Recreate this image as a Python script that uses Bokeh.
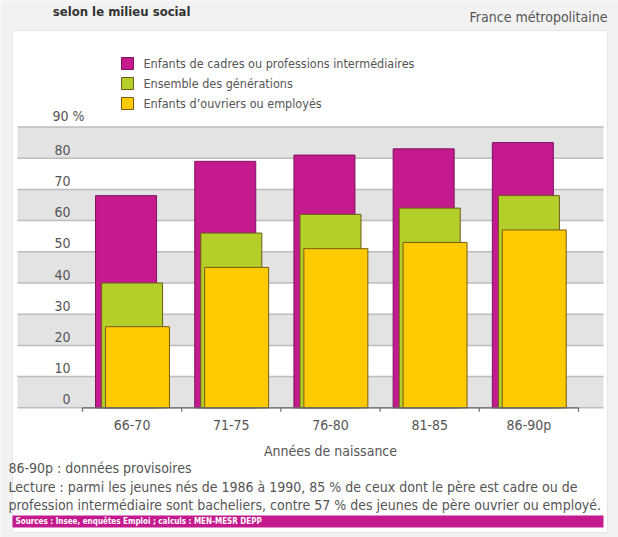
from bokeh.plotting import figure
from bokeh.models import Range1d
from bokeh.core.properties import value
from bokeh.embed import file_html
from bokeh.resources import INLINE

# ---- data ----
categories = ["66-70", "71-75", "76-80", "81-85", "86-90p"]
cadres = [68, 79, 81, 83, 85]
ensemble = [40, 56, 62, 64, 68]
ouvriers = [26, 45, 51, 53, 57]
series_names = ["Enfants de cadres ou professions intermédiaires",
                "Ensemble des générations",
                "Enfants d\u2019ouvriers ou employés"]
y_ticks = [0, 10, 20, 30, 40, 50, 60, 70, 80, 90]

FONT = value("DejaVu Sans Condensed, DejaVu Sans, sans-serif")
GREY_TXT = "#555555"
PURPLE = "#c41a8e"
GREEN = "#b4cf29"
YELLOW = "#fecb00"

W, H = 618, 537
PPX = 99.2   # px per category
PPY = 3.12   # px per percent
x0 = -131.6 / PPX
x1 = x0 + W / PPX
y0 = -(H - 407.3) / PPY
y1 = y0 + H / PPY


def X(refx):
    return x0 + refx / PPX


def Y(refy):
    return y1 - refy / PPY


p = figure(width=W, height=H, x_range=Range1d(x0, x1), y_range=Range1d(y0, y1),
           output_backend="svg", toolbar_location=None, min_border=0,
           background_fill_color="#f2f2f2", border_fill_color="#f2f2f2")
p.axis.visible = False
p.grid.visible = False
p.outline_line_color = None

# title remnant at the very top
p.text(x=[X(190)], y=[Y(11)], text=["selon le milieu social"], text_align="right",
       text_baseline="alphabetic", text_font=FONT, text_font_size="13px",
       text_font_style="bold", text_color="#333333")

# white panel
p.quad(left=[X(12)], right=[X(607)], top=[Y(30)], bottom=[Y(532)],
       fill_color="white", line_color="#e6e6e6")

# alternating bands
band_lo = [v for v in y_ticks[:-1] if (v // 10) % 2 == 0]
p.quad(left=[X(17)] * len(band_lo), right=[X(603)] * len(band_lo),
       bottom=band_lo, top=[v + 10 for v in band_lo],
       fill_color="#e3e3e3", line_color=None)
# grid lines
p.segment(x0=[X(17)] * len(y_ticks), x1=[X(603)] * len(y_ticks),
          y0=y_ticks, y1=y_ticks, line_color="#bdbdbd", line_width=1.5)

# y tick labels
p.text(x=[X(70)] * (len(y_ticks) - 1), y=[v + 1.1 for v in y_ticks[:-1]],
       text=[str(v) for v in y_ticks[:-1]], text_align="right",
       text_baseline="bottom", text_font=FONT, text_font_size="14px",
       text_color=GREY_TXT)
p.text(x=[X(52)], y=[y_ticks[-1] + 1.1], text=[f"{y_ticks[-1]} %"],
       text_align="left", text_baseline="bottom", text_font=FONT,
       text_font_size="14px", text_color=GREY_TXT)

idx = list(range(len(categories)))

# bars
p.vbar(x=[i - 0.061 for i in idx], width=0.615, top=cadres, bottom=0,
       fill_color=PURPLE, line_color="#7e1460", line_width=1)
p.vbar(x=[i + 0.0 for i in idx], width=0.615, top=ensemble, bottom=0,
       fill_color=GREEN, line_color="#6d5a1c", line_width=1)
p.vbar(x=[i + 0.054 for i in idx], width=0.645, top=ouvriers, bottom=0,
       fill_color=YELLOW, line_color="#7a5a14", line_width=1)

# x axis baseline + ticks
bounds = [i - 0.5 for i in range(len(categories) + 1)]
p.segment(x0=[bounds[0]], x1=[bounds[-1]], y0=[0], y1=[0],
          line_color="#6a6a6a", line_width=1.2)
p.segment(x0=bounds, x1=bounds, y0=[0] * len(bounds),
          y1=[-1.3] * len(bounds), line_color="#6a6a6a", line_width=1.2)

# category labels
p.text(x=idx, y=[Y(424)] * len(idx), text=categories, text_align="center",
       text_baseline="middle", text_font=FONT, text_font_size="14px",
       text_color=GREY_TXT)
p.text(x=[X(330)], y=[Y(450)], text=["Années de naissance"], text_align="center",
       text_baseline="middle", text_font=FONT, text_font_size="14px",
       text_color=GREY_TXT)

# legend
leg_y = [Y(63), Y(83), Y(103)]
p.rect(x=[X(127)] * 3, y=leg_y, width=12, height=12, width_units="screen",
       height_units="screen", fill_color=[PURPLE, GREEN, YELLOW],
       line_color=["#7e1460", "#6d5a1c", "#7a5a14"], line_width=1)
p.text(x=[X(143)] * 3, y=leg_y, text=series_names, text_align="left",
       text_baseline="middle", text_font=FONT, text_font_size="12.5px",
       text_color=GREY_TXT)

# header text
p.text(x=[X(607)], y=[Y(16)], text=["France métropolitaine"], text_align="right",
       text_baseline="middle", text_font=FONT, text_font_size="14px",
       text_color=GREY_TXT)

# footnotes
notes = ["86-90p : données provisoires",
         "Lecture : parmi les jeunes nés de 1986 à 1990, 85 % de ceux dont le père est cadre ou de",
         "profession intermédiaire sont bacheliers, contre 57 % des jeunes de père ouvrier ou employé."]
p.text(x=[X(8)] * 3, y=[Y(467), Y(486), Y(504)], text=notes, text_align="left",
       text_baseline="middle", text_font=FONT, text_font_size="14px",
       text_color=GREY_TXT)

# source bar
p.quad(left=[X(12)], right=[X(603)], top=[Y(515)], bottom=[Y(527)],
       fill_color=PURPLE, line_color=None)
p.text(x=[X(15)], y=[Y(521)], text=["Sources : Insee, enquêtes Emploi ; calculs : MEN-MESR DEPP"],
       text_align="left", text_baseline="middle", text_font=FONT,
       text_font_size="8px", text_font_style="bold", text_color="white")

open("out.html", "w").write(file_html(p, INLINE))
